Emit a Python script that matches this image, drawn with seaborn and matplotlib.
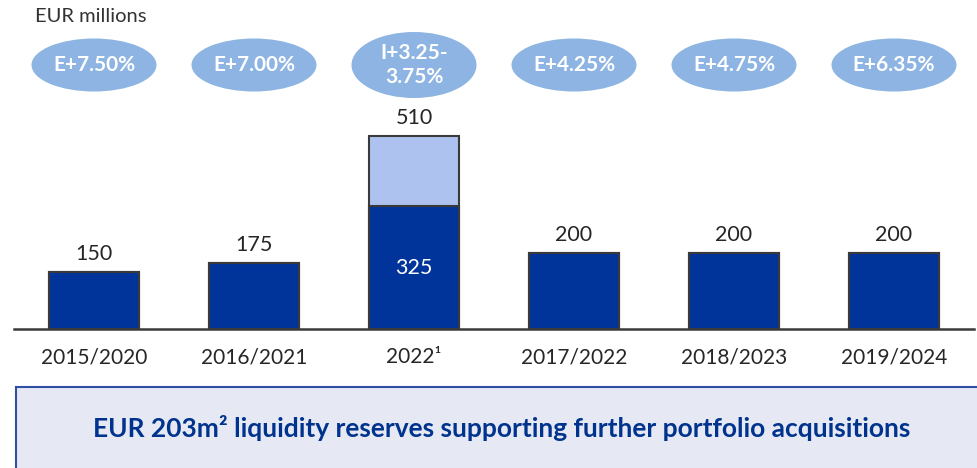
import matplotlib
matplotlib.use("Agg")
import matplotlib.pyplot as plt
from matplotlib.patches import Ellipse, Rectangle
import seaborn as sns
import pandas as pd

sns.set_theme(style="white")
plt.rcParams['font.family'] = ['Lato', 'DejaVu Sans']

# data
categories = ["2015/2020", "2016/2021", "2022¹", "2017/2022", "2018/2023", "2019/2024"]
totals = [150, 175, 510, 200, 200, 200]
base = [150, 175, 325, 200, 200, 200]
coupons = ["E+7.50%", "E+7.00%", "I+3.25-\n3.75%", "E+4.25%", "E+4.75%", "E+6.35%"]
footer = "EUR 203m² liquidity reserves supporting further portfolio acquisitions"

DARK = "#00349A"
LIGHT = "#AEC2F0"
OVAL = "#8DB4E2"
EDGE = "#3a3a3a"

df = pd.DataFrame({"cat": categories, "total": totals, "base": base})

fig = plt.figure(figsize=(9.77, 4.68), dpi=100)
ax = fig.add_axes([14 / 977, 139 / 468, 960 / 977, 329 / 468])

sns.barplot(data=df, x="cat", y="total", order=categories, color=LIGHT,
            width=0.5625, edgecolor=EDGE, linewidth=1.5, saturation=1, ax=ax)
sns.barplot(data=df, x="cat", y="base", order=categories, color=DARK,
            width=0.5625, edgecolor=EDGE, linewidth=1.5, saturation=1, ax=ax)

px = 0.378  # pixels per EUR million
ax.set_ylim(0, 329 / px)
ax.set_xlim(-0.5, 5.5)

for i, (t, b) in enumerate(zip(totals, base)):
    ax.text(i, t + 18 / px, str(t), ha="center", va="center", fontsize=15.5, color="#262626")
    if b != t:
        ax.text(i, b / 2, str(b), ha="center", va="center", fontsize=15.5, color="white")

# coupon ovals
for i, lab in enumerate(coupons):
    two = "\n" in lab
    h = (66 if two else 53) / px
    w = 125 / 160
    ax.add_patch(Ellipse((i, (329 - 65) / px), w, h, facecolor=OVAL, edgecolor="none"))
    ax.text(i, (329 - 65) / px, lab, ha="center", va="center", fontsize=15,
            fontweight="bold", color="white", linespacing=1.3)

ax.text(-0.5 + 21 / 160, (329 - 17) / px, "EUR millions", ha="left", va="center",
        fontsize=14.5, color="#333333")

ax.set_xlabel("")
ax.set_ylabel("")
ax.set_yticks([])
ax.tick_params(axis="x", length=0, pad=13, labelsize=15, labelcolor="#262626")
for s in ["top", "left", "right"]:
    ax.spines[s].set_visible(False)
ax.spines["bottom"].set_color(EDGE)
ax.spines["bottom"].set_linewidth(1.8)

# footer box
fig.patches.append(Rectangle((16 / 977, -0.01), 1.0, (468 - 387) / 468 + 0.01,
                             transform=fig.transFigure, facecolor="#E6E8F3",
                             edgecolor="#2E4FA3", linewidth=1.5, zorder=0))
fig.text(502 / 977, (468 - 428) / 468, footer, ha="center", va="center",
         fontsize=19, fontweight="bold", color="#00338D")

fig.savefig("out.png", dpi=100)
